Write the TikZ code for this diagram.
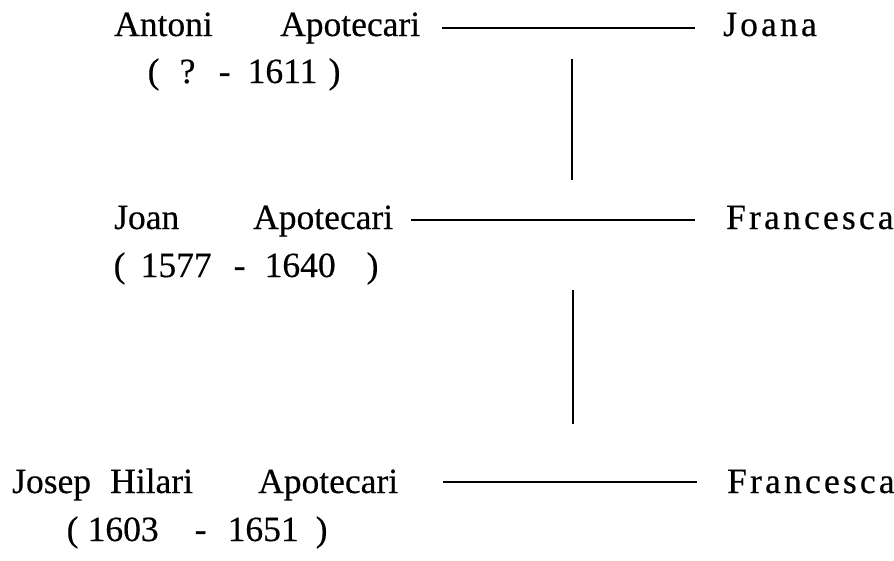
\documentclass[tikz,border=0pt]{standalone}
\usepackage{fontspec}
\setmainfont{Liberation Serif}[FakeBold=0.4]
\newfontfamily\spacedfont[LetterSpace=9,FakeBold=0.4]{Liberation Serif}
\newcommand\at[2]{\makebox[0pt][l]{\hspace*{#1pt}#2}}
\tikzset{
  txt/.style={anchor=base west, inner sep=0pt, font=\fontsize{35.5}{40}\selectfont},
  spouse/.style={txt, font=\fontsize{35.5}{40}\selectfont\spacedfont},
  rel/.style={line width=1.8pt},
}
\begin{document}
\begin{tikzpicture}[x=1pt,y=-1pt]
\useasboundingbox (0,0) rectangle (894,560);
% row 1
\node[txt] (a1) at (114,36) {Antoni};
\node[txt] (a2) at (280,36) {Apotecari};
\node[spouse] (j1) at (723,36) {Joana};
\node[txt] (d1) at (147,83) {\at{0}{(}\at{32}{?}\at{71}{-}\at{100}{1611}\at{181}{)}};
\draw[rel, shorten <=22pt, shorten >=28pt] ([yshift=8pt]a2.base east) -- ([yshift=8pt]j1.base west);
\coordinate (v1t) at (572,59);
\coordinate (v1b) at (572,180);
\draw[rel] (v1t) -- (v1b);
% row 2
\node[txt] (b1) at (114,229) {Joan};
\node[txt] (b2) at (253,229) {Apotecari};
\node[spouse] (f1) at (726,229) {Francesca};
\node[txt] (d2) at (113,277) {\at{0}{(}\at{27}{1577}\at{120}{-}\at{151}{1640}\at{253}{)}};
\draw[rel, shorten <=18pt, shorten >=31pt] ([yshift=9pt]b2.base east) -- ([yshift=9pt]f1.base west);
\coordinate (v2t) at (573,290);
\coordinate (v2b) at (573,424);
\draw[rel] (v2t) -- (v2b);
% row 3
\node[txt] (c1) at (12,493) {Josep};
\node[txt] (c2) at (110,493) {Hilari};
\node[txt] (c3) at (258,493) {Apotecari};
\node[spouse] (f2) at (727,493) {Francesca};
\node[txt] (d3) at (66,541) {\at{0}{(}\at{21}{1603}\at{128}{-}\at{161}{1651}\at{249}{)}};
\draw[rel, shorten <=45pt, shorten >=30pt] ([yshift=11pt]c3.base east) -- ([yshift=11pt]f2.base west);
\end{tikzpicture}
\end{document}
